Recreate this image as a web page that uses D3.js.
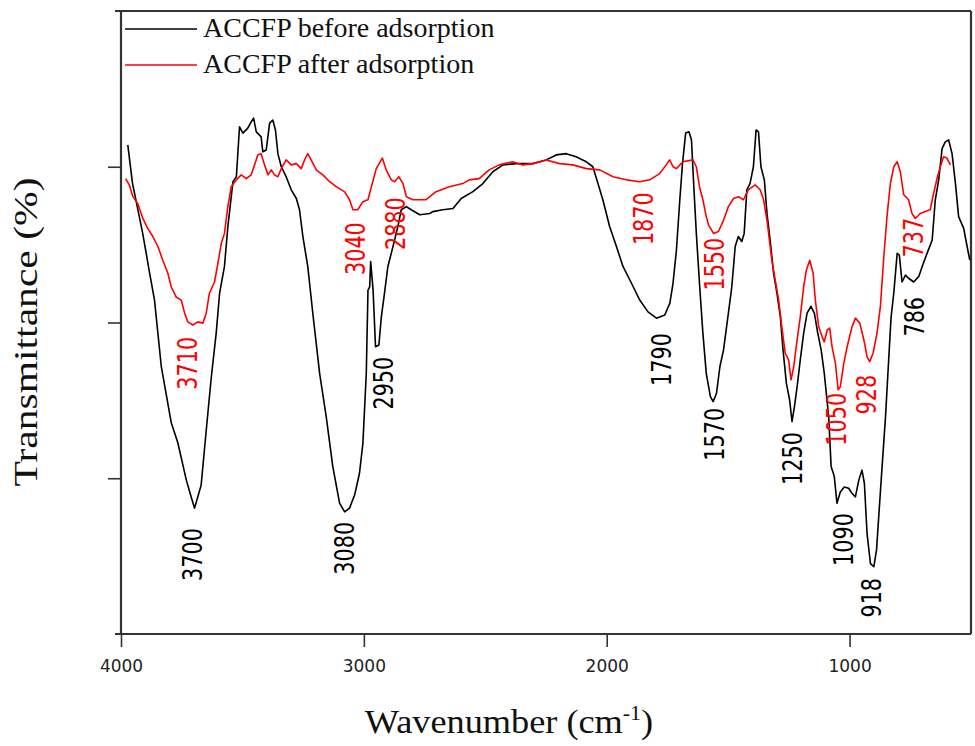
<!DOCTYPE html>
<html>
<head>
<meta charset="utf-8">
<script src="https://cdn.jsdelivr.net/npm/d3@7"></script>
<style>
  body { margin: 0; background: #fff; }
</style>
</head>
<body>
<div id="plot_area"></div>
<script>

// FTIR spectra: wavenumber (cm-1) and transmittance (arbitrary %)
var beforeWn = [3972,3953,3911,3882,3862,3834,3793,3766,3731,3711,3697,3684,3670,3649,3628,3608,3594,3574,3560,3539,
  3525,3512,3498,3478,3464,3454,3443,3423,3416,3402,3388,3375,3364,3354,3340,3320,3299,3278,3265,3251,
  3231,3210,3182,3155,3128,3100,3079,3059,3038,3018,3004,2990,2983,2976,2972,2962,2952,2938,2928,2915,
  2901,2880,2860,2846,2825,2805,2770,2729,2716,2675,2633,2599,2551,2510,2469,2427,2372,2304,2249,2208,
  2167,2126,2084,2057,2036,2016,1988,1960,1933,1898,1864,1830,1795,1761,1740,1727,1713,1699,1688,1675,
  1661,1651,1642,1631,1618,1604,1590,1573,1562,1548,1534,1519,1499,1485,1471,1458,1444,1434,1423,1410,
  1396,1385,1375,1365,1351,1340,1327,1313,1299,1285,1274,1260,1247,1237,1227,1216,1203,1189,1175,1159,
  1145,1131,1117,1104,1086,1076,1063,1052,1038,1022,1004,990,976,962,949,939,928,914,900,889,
  880,866,852,839,829,818,804,795,784,770,757,736,715,701,681,660,647,633,619,606,
  592,578,564,551,530,516,505];
var beforeT = [78.5,72.4,64.4,57.9,53.6,42.9,33.9,30.7,24.7,22.0,20.2,22.0,23.9,32.7,41.3,48.3,54.7,59.0,65.4,72.6,
  73.4,81.4,80.4,81.2,82.2,82.8,80.6,79.8,77.4,77.7,82.0,82.5,80.9,77.1,75.0,73.4,71.3,69.9,68.1,63.8,
  59.0,51.4,41.8,34.9,26.9,21.0,19.6,20.2,22.3,25.8,30.6,41.8,55.2,55.7,59.8,55.2,46.1,46.4,50.9,54.7,
  59.0,62.2,65.4,68.1,68.6,68.1,67.3,67.5,67.8,68.1,68.3,69.9,71.0,72.3,74.2,75.3,75.5,75.5,76.1,76.9,
  77.1,76.6,75.8,75.0,72.3,69.7,65.4,62.2,59.0,56.3,53.6,51.7,50.7,51.2,53.1,56.3,61.6,69.7,75.5,80.4,
  80.6,79.3,72.3,64.3,56.3,48.3,41.8,38.1,37.3,38.6,42.9,45.6,51.5,55.7,62.2,63.8,63.0,64.3,71.3,72.3,
  75.0,80.9,80.6,75.0,72.9,67.5,63.2,57.9,54.7,50.9,45.6,40.2,37.6,34.1,36.5,39.7,44.0,48.3,51.5,52.6,
  51.5,48.3,45.6,41.8,34.9,26.9,25.3,21.0,22.8,23.6,23.4,22.6,22.0,24.7,26.3,24.2,16.1,11.3,10.8,13.5,
  18.8,26.9,34.9,44.0,50.9,54.7,61.1,60.8,56.5,57.6,57.1,56.5,57.4,59.0,61.1,63.2,69.7,72.9,77.9,79.0,
  79.3,77.1,72.3,67.0,65.1,62.2,60.0];

var afterWn = [3981,3965,3951,3931,3910,3890,3869,3848,3828,3807,3793,3773,3752,3738,3725,3704,3684,3663,3649,3636,
  3615,3601,3587,3574,3560,3546,3525,3505,3484,3464,3450,3437,3423,3409,3395,3381,3368,3354,3340,3320,
  3299,3278,3258,3244,3231,3217,3196,3169,3141,3114,3080,3059,3045,3025,3004,2983,2969,2949,2924,2908,
  2887,2873,2856,2839,2825,2798,2770,2745,2703,2648,2593,2566,2525,2484,2443,2388,2346,2304,2249,2194,
  2139,2084,2029,1974,1919,1864,1823,1782,1755,1741,1727,1713,1686,1645,1631,1618,1604,1590,1580,1560,
  1540,1519,1499,1478,1458,1437,1417,1389,1368,1354,1340,1320,1306,1292,1279,1265,1251,1241,1230,1216,
  1203,1189,1178,1164,1150,1141,1127,1113,1104,1092,1082,1072,1058,1047,1038,1024,1010,990,976,958,
  941,928,917,903,887,873,860,846,832,818,804,791,777,757,743,729,709,688,668,654,
  638,624,613,599,585];
var afterT = [73.1,72.0,70.2,69.1,66.7,65.1,63.8,62.2,60.0,57.9,55.7,54.1,53.6,51.5,50.1,49.6,50.1,49.9,51.5,54.7,
  56.5,59.5,62.7,64.3,68.6,71.8,72.9,73.7,73.1,73.7,75.3,76.9,77.1,75.3,73.7,74.5,73.7,73.4,74.7,76.1,
  75.3,75.5,74.7,76.1,77.1,76.1,74.5,73.7,72.6,71.8,71.0,69.7,68.1,68.1,69.4,69.7,71.8,74.7,76.4,74.5,
  72.9,72.6,73.4,72.3,70.2,69.7,69.7,69.7,71.0,71.8,72.3,72.9,73.1,74.5,75.3,75.8,75.3,75.5,76.1,75.5,
  75.3,74.7,74.5,73.4,72.9,72.6,72.9,73.9,75.3,76.1,75.0,74.7,75.8,76.1,75.0,71.8,69.7,67.0,65.6,64.3,
  64.6,66.4,68.6,69.9,70.2,69.7,71.3,72.1,71.3,69.7,66.4,60.0,56.8,53.6,49.3,45.1,44.0,40.8,42.9,47.2,
  50.9,55.7,58.4,60.0,57.9,53.6,49.3,47.7,46.9,48.8,49.1,46.1,43.4,39.2,39.7,43.4,46.1,49.3,50.7,49.9,
  47.2,44.5,43.7,45.1,48.3,52.6,60.0,67.0,72.3,75.0,75.8,74.2,70.5,69.7,67.5,66.7,67.5,67.8,68.1,70.7,
  73.4,75.3,76.6,76.4,75.3];

var seriesNames = ["ACCFP before adsorption", "ACCFP after adsorption"];
var seriesColors = ["#000000", "#ff0000"];

var xTicks = [4000, 3000, 2000, 1000];
var yTicks = [25, 50, 75];

// peak labels: text, series (0 before / 1 after), and where the top of the label sits (wn, T)
var peakText   = ["3700","3080","2950","1790","1570","1250","1090","918","786",
                  "3710","3040","2880","1870","1550","1050","928","737"];
var peakSeries = [0,0,0,0,0,0,0,0,0, 1,1,1,1,1,1,1,1];
var peakWn     = [3705,3079,2919,1774,1555,1234,1024,909,732,
                  3726,3034,2869,1848,1553,1052,928,736];
var peakT      = [17.0,18.0,44.5,48.3,36.3,32.4,19.4,9.0,54.1,
                  47.7,66.1,70.1,70.9,63.6,38.7,41.6,66.8];

// set the dimensions and margins of the graph
var margin = {top: 11, right: 4, bottom: 112, left: 121},
    width = 975 - margin.left - margin.right,
    height = 746 - margin.top - margin.bottom;

var Svg = d3.select("#plot_area")
  .append("svg")
    .attr("width", 975)
    .attr("height", 746)
  .append("g")
    .attr("transform", "translate(" + margin.left + "," + margin.top + ")");

var x = d3.scaleLinear().domain([4000, 500]).range([0, width]);
var y = d3.scaleLinear().domain([0, 100]).range([height, 0]);

var axisColor = "#333";

// X axis
var gx = Svg.append("g")
  .attr("transform", "translate(0," + height + ")")
  .call(d3.axisBottom(x).tickValues(xTicks).tickSize(13).tickSizeOuter(0).tickPadding(13).tickFormat(d3.format("d")));
gx.select(".domain").remove();
gx.selectAll(".tick line").attr("stroke", axisColor).attr("stroke-width", 1.6);
gx.selectAll(".tick text")
  .style("font-family", "'DejaVu Sans', sans-serif")
  .style("font-size", "17px")
  .attr("fill", "#222");

// Y axis, ticks only
var gy = Svg.append("g")
  .call(d3.axisLeft(y).tickValues(yTicks).tickSize(13).tickSizeOuter(0).tickFormat(""));
gy.select(".domain").remove();
gy.selectAll(".tick line").attr("stroke", axisColor).attr("stroke-width", 1.6);

// frame
var frame = [[-6, 0, width, 0], [-6, height, width, height], [0, 0, 0, height], [width, 0, width, height]];
Svg.selectAll(".frame")
  .data(frame)
  .enter()
  .append("line")
    .attr("x1", function(d) { return d[0]; })
    .attr("y1", function(d) { return d[1]; })
    .attr("x2", function(d) { return d[2]; })
    .attr("y2", function(d) { return d[3]; })
    .attr("stroke", axisColor)
    .attr("stroke-width", 2.2);

// curves
var series = [d3.zip(beforeWn, beforeT), d3.zip(afterWn, afterT)];
var line = d3.line()
  .x(function(d) { return x(d[0]); })
  .y(function(d) { return y(d[1]); });

Svg.selectAll(".curve")
  .data(series)
  .enter()
  .append("path")
    .attr("fill", "none")
    .attr("stroke", function(d, i) { return seriesColors[i]; })
    .attr("stroke-width", 1.6)
    .attr("stroke-linejoin", "round")
    .attr("d", line);

// peak labels
Svg.selectAll(".peak")
  .data(peakText)
  .enter()
  .append("text")
    .attr("transform", function(d, i) {
      return "translate(" + x(peakWn[i]) + "," + y(peakT[i]) + ") rotate(-90)";
    })
    .attr("text-anchor", "end")
    .attr("dy", "0.35em")
    .attr("textLength", function(d) { return 13.2 * d.length; })
    .attr("lengthAdjust", "spacingAndGlyphs")
    .style("font-family", "'Liberation Sans Narrow', 'DejaVu Sans Condensed', 'Liberation Sans', sans-serif")
    .style("font-size", "26px")
    .attr("fill", function(d, i) { return seriesColors[peakSeries[i]]; })
    .text(function(d) { return d; });

// legend
var legend = Svg.selectAll(".legend")
  .data(seriesNames)
  .enter()
  .append("g")
    .attr("transform", function(d, i) { return "translate(4," + (18 + i * 36) + ")"; });
legend.append("line")
  .attr("x1", 0).attr("x2", 72)
  .attr("stroke", function(d, i) { return seriesColors[i]; })
  .attr("stroke-width", 1.6);
legend.append("text")
  .attr("x", 78)
  .attr("y", 8)
  .style("font-family", "'Liberation Serif', 'Times New Roman', serif")
  .style("font-size", "28px")
  .attr("fill", "#111")
  .text(function(d) { return d; });

// X axis label
var xt = Svg.append("text")
  .attr("transform", "translate(" + (509 - margin.left) + "," + (733 - margin.top) + ") scale(1.1,1)")
  .attr("text-anchor", "middle")
  .style("font-family", "'Liberation Serif', 'Times New Roman', serif")
  .style("font-size", "33px")
  .attr("fill", "#111");
xt.append("tspan").text("Wavenumber (cm");
xt.append("tspan").attr("dy", -13).style("font-size", "20px").text("-1");
xt.append("tspan").attr("dy", 13).text(")");

// Y axis label
Svg.append("text")
  .attr("transform", "translate(" + (37 - margin.left) + "," + (332 - margin.top) + ") rotate(-90)")
  .attr("text-anchor", "middle")
  .attr("textLength", 309)
  .attr("lengthAdjust", "spacingAndGlyphs")
  .style("font-family", "'Liberation Serif', 'Times New Roman', serif")
  .style("font-size", "33px")
  .attr("fill", "#111")
  .text("Transmittance (%)");

</script>
</body>
</html>
